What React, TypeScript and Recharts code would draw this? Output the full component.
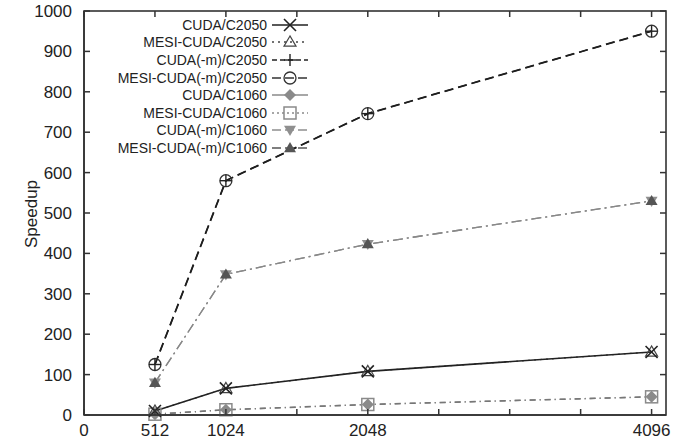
import { LineChart, Line, XAxis, YAxis } from 'recharts';

// problem sizes on the x axis
const sizes = [512, 1024, 2048, 4096];

// speedups
const cudaC2050 = [10, 66, 108, 156];
const mesiC2050 = [10, 66, 108, 156];
const cudaMC2050 = [125, 580, 746, 950];
const mesiMC2050 = [125, 580, 746, 950];
const cudaC1060 = [2, 13, 26, 45];
const mesiC1060 = [2, 13, 26, 45];
const cudaMC1060 = [80, 348, 423, 530];
const mesiMC1060 = [80, 348, 423, 530];

const xTicks = [0, 512, 1024, 1536, 2048, 2560, 3072, 3584, 4096];
const xLabels = [0, 512, 1024, 2048, 4096];
const yTicks = [0, 100, 200, 300, 400, 500, 600, 700, 800, 900, 1000];
const X_MAX = 4200;
const Y_MAX = 1000;

const data = sizes.map((size, i) => ({
  size,
  cudaC2050: cudaC2050[i],
  mesiC2050: mesiC2050[i],
  cudaMC2050: cudaMC2050[i],
  mesiMC2050: mesiMC2050[i],
  cudaC1060: cudaC1060[i],
  mesiC1060: mesiC1060[i],
  cudaMC1060: cudaMC1060[i],
  mesiMC1060: mesiMC1060[i]
}));

const FONT = '"Liberation Sans", Arial, Helvetica, sans-serif';
const AXIS = '#333';

// plot box that the chart margins below produce
const W = 673;
const H = 445;
const MARGIN = { top: 11, right: 7, bottom: 0, left: 0 };
const Y_AXIS_W = 84;
const X_AXIS_H = 30;
const PLOT = {
  left: MARGIN.left + Y_AXIS_W,
  right: W - MARGIN.right,
  top: MARGIN.top,
  bottom: H - MARGIN.bottom - X_AXIS_H
};
const sx = (v: number) => PLOT.left + (v / X_MAX) * (PLOT.right - PLOT.left);
const sy = (v: number) => PLOT.bottom - (v / Y_MAX) * (PLOT.bottom - PLOT.top);

type Shape = 'x' | 'tri' | 'plus' | 'circle' | 'diamond' | 'square' | 'triDown' | 'triUp';

const Marker = ({ shape, cx, cy, color }: { shape: Shape; cx: number; cy: number; color: string }) => {
  const s = 6;
  switch (shape) {
    case 'x':
      return (
        <g stroke={color} strokeWidth={1.6}>
          <line x1={cx - s} y1={cy - s} x2={cx + s} y2={cy + s} />
          <line x1={cx - s} y1={cy + s} x2={cx + s} y2={cy - s} />
        </g>
      );
    case 'plus':
      return (
        <g stroke={color} strokeWidth={1.4}>
          <line x1={cx - s} y1={cy} x2={cx + s} y2={cy} />
          <line x1={cx} y1={cy - s} x2={cx} y2={cy + s} />
        </g>
      );
    case 'tri':
      return (
        <polygon
          points={`${cx},${cy - s} ${cx - s},${cy + s * 0.7} ${cx + s},${cy + s * 0.7}`}
          fill="none"
          stroke={color}
          strokeWidth={1.2}
        />
      );
    case 'circle':
      return <circle cx={cx} cy={cy} r={s} fill="none" stroke={color} strokeWidth={1.3} />;
    case 'diamond':
      return (
        <polygon points={`${cx},${cy - s} ${cx + s},${cy} ${cx},${cy + s} ${cx - s},${cy}`} fill={color} />
      );
    case 'square':
      return (
        <rect x={cx - s} y={cy - s} width={2 * s} height={2 * s} fill="none" stroke={color} strokeWidth={1.5} />
      );
    case 'triDown':
      return (
        <polygon points={`${cx - s},${cy - s * 0.7} ${cx + s},${cy - s * 0.7} ${cx},${cy + s}`} fill={color} />
      );
    case 'triUp':
      return (
        <polygon points={`${cx},${cy - s} ${cx - s},${cy + s * 0.7} ${cx + s},${cy + s * 0.7}`} fill={color} />
      );
  }
  return null;
};

const seriesStyle = [
  { key: 'cudaC2050', name: 'CUDA/C2050', shape: 'x' as Shape, color: '#222', dash: undefined, lw: 1.6 },
  { key: 'mesiC2050', name: 'MESI-CUDA/C2050', shape: 'tri' as Shape, color: '#444', dash: '2 4', lw: 1.2 },
  { key: 'cudaMC2050', name: 'CUDA(-m)/C2050', shape: 'plus' as Shape, color: '#222', dash: '5 3', lw: 1.8 },
  { key: 'mesiMC2050', name: 'MESI-CUDA(-m)/C2050', shape: 'circle' as Shape, color: '#333', dash: '9 4', lw: 1.3 },
  { key: 'cudaC1060', name: 'CUDA/C1060', shape: 'diamond' as Shape, color: '#8a8a8a', dash: undefined, lw: 1.5 },
  { key: 'mesiC1060', name: 'MESI-CUDA/C1060', shape: 'square' as Shape, color: '#8a8a8a', dash: '2 3', lw: 1.3 },
  { key: 'cudaMC1060', name: 'CUDA(-m)/C1060', shape: 'triDown' as Shape, color: '#8f8f8f', dash: '9 4', lw: 1.3 },
  { key: 'mesiMC1060', name: 'MESI-CUDA(-m)/C1060', shape: 'triUp' as Shape, color: '#555', dash: '9 4', lw: 1.3 }
];

// drawing order: C1060 under C2050, visible line style of each group drawn last
const lineOrder = ['cudaC1060', 'mesiC1060', 'cudaMC1060', 'mesiMC1060', 'mesiC2050', 'cudaC2050', 'mesiMC2050', 'cudaMC2050'];
const plotDash: Record<string, string | undefined> = {
  cudaC1060: '6 4 1 4',
  mesiC1060: '6 4 1 4',
  cudaMC1060: '10 4 2 4',
  mesiMC1060: '10 4 2 4',
  mesiMC2050: '9 5',
  cudaMC2050: '9 5'
};
const plotColor: Record<string, string> = {
  cudaC1060: '#777',
  mesiC1060: '#777',
  cudaMC1060: '#888',
  mesiMC1060: '#888',
  cudaMC2050: '#1e1e1e',
  mesiMC2050: '#1e1e1e'
};

const LegendBox = () => (
  <div style={{ position: 'absolute', top: 16, left: 104, fontFamily: FONT, fontSize: 14, color: '#222' }}>
    {seriesStyle.map((s) => (
      <div key={s.key} style={{ display: 'flex', alignItems: 'center', height: 17.6 }}>
        <div style={{ width: 163, textAlign: 'right', whiteSpace: 'nowrap' }}>{s.name}</div>
        <svg width={44} height={18} style={{ marginLeft: 3 }}>
          <line x1={2} y1={9} x2={38} y2={9} stroke={s.color} strokeWidth={1.3} strokeDasharray={s.dash} />
          <Marker shape={s.shape} cx={20} cy={9} color={s.color} />
        </svg>
      </div>
    ))}
  </div>
);

const LeftTick = (props: any) => {
  const { x, y, payload } = props;
  return (
    <text x={x - 12} y={y + 6} textAnchor="end" fontSize={17} fontFamily={FONT} fill="#222">
      {payload.value}
    </text>
  );
};

const BottomTick = (props: any) => {
  const { x, y, payload } = props;
  if (!xLabels.includes(payload.value)) return <g />;
  return (
    <text x={x} y={y + 21} textAnchor="middle" fontSize={17} fontFamily={FONT} fill="#222">
      {payload.value}
    </text>
  );
};

// gnuplot-style frame with inward ticks on all four sides
const Frame = () => (
  <svg width={W} height={H} style={{ position: 'absolute', left: 0, top: 0, pointerEvents: 'none' }}>
    <g stroke={AXIS} strokeWidth={1.5}>
      <rect x={PLOT.left} y={PLOT.top} width={PLOT.right - PLOT.left} height={PLOT.bottom - PLOT.top} fill="none" strokeWidth={1.6} />
      {xTicks.map((v) => (
        <g key={`x${v}`}>
          <line x1={sx(v)} y1={PLOT.bottom} x2={sx(v)} y2={PLOT.bottom - 6} />
          <line x1={sx(v)} y1={PLOT.top} x2={sx(v)} y2={PLOT.top + 6} />
        </g>
      ))}
      {yTicks.map((v) => (
        <g key={`y${v}`}>
          <line x1={PLOT.left} y1={sy(v)} x2={PLOT.left + 6} y2={sy(v)} />
          <line x1={PLOT.right} y1={sy(v)} x2={PLOT.right - 6} y2={sy(v)} />
        </g>
      ))}
    </g>
    <text transform="translate(37,214) rotate(-90)" textAnchor="middle" fontSize={17} fontFamily={FONT} fill="#222">
      Speedup
    </text>
  </svg>
);

export default function App() {
  return (
    <div style={{ position: 'relative', width: W, height: H, background: '#fff' }}>
      <style>{'body{margin:0}'}</style>
      <LineChart width={W} height={H} data={data} margin={MARGIN}>
        <XAxis
          dataKey="size"
          type="number"
          domain={[0, X_MAX]}
          ticks={xTicks}
          interval={0}
          height={X_AXIS_H}
          tickSize={0}
          tickMargin={0}
          tickLine={false}
          tick={BottomTick}
          axisLine={{ stroke: AXIS, strokeWidth: 1.6 }}
        />
        <YAxis
          domain={[0, Y_MAX]}
          ticks={yTicks}
          interval={0}
          width={Y_AXIS_W}
          tickSize={0}
          tickMargin={0}
          tickLine={false}
          tick={LeftTick}
          axisLine={{ stroke: AXIS, strokeWidth: 1.6 }}
        />
        {lineOrder.map((k) => {
          const s = seriesStyle.find((t) => t.key === k)!;
          const dash = k in plotDash ? plotDash[k] : s.dash;
          return (
            <Line
              key={k}
              dataKey={k}
              name={s.name}
              stroke={plotColor[k] ?? s.color}
              strokeWidth={s.lw}
              strokeDasharray={dash}
              isAnimationActive={false}
              legendType="none"
              dot={(p: any) => <Marker key={`${k}-${p.index}`} shape={s.shape} cx={p.cx} cy={p.cy} color={s.color} />}
            />
          );
        })}
      </LineChart>
      <Frame />
      <LegendBox />
    </div>
  );
}
